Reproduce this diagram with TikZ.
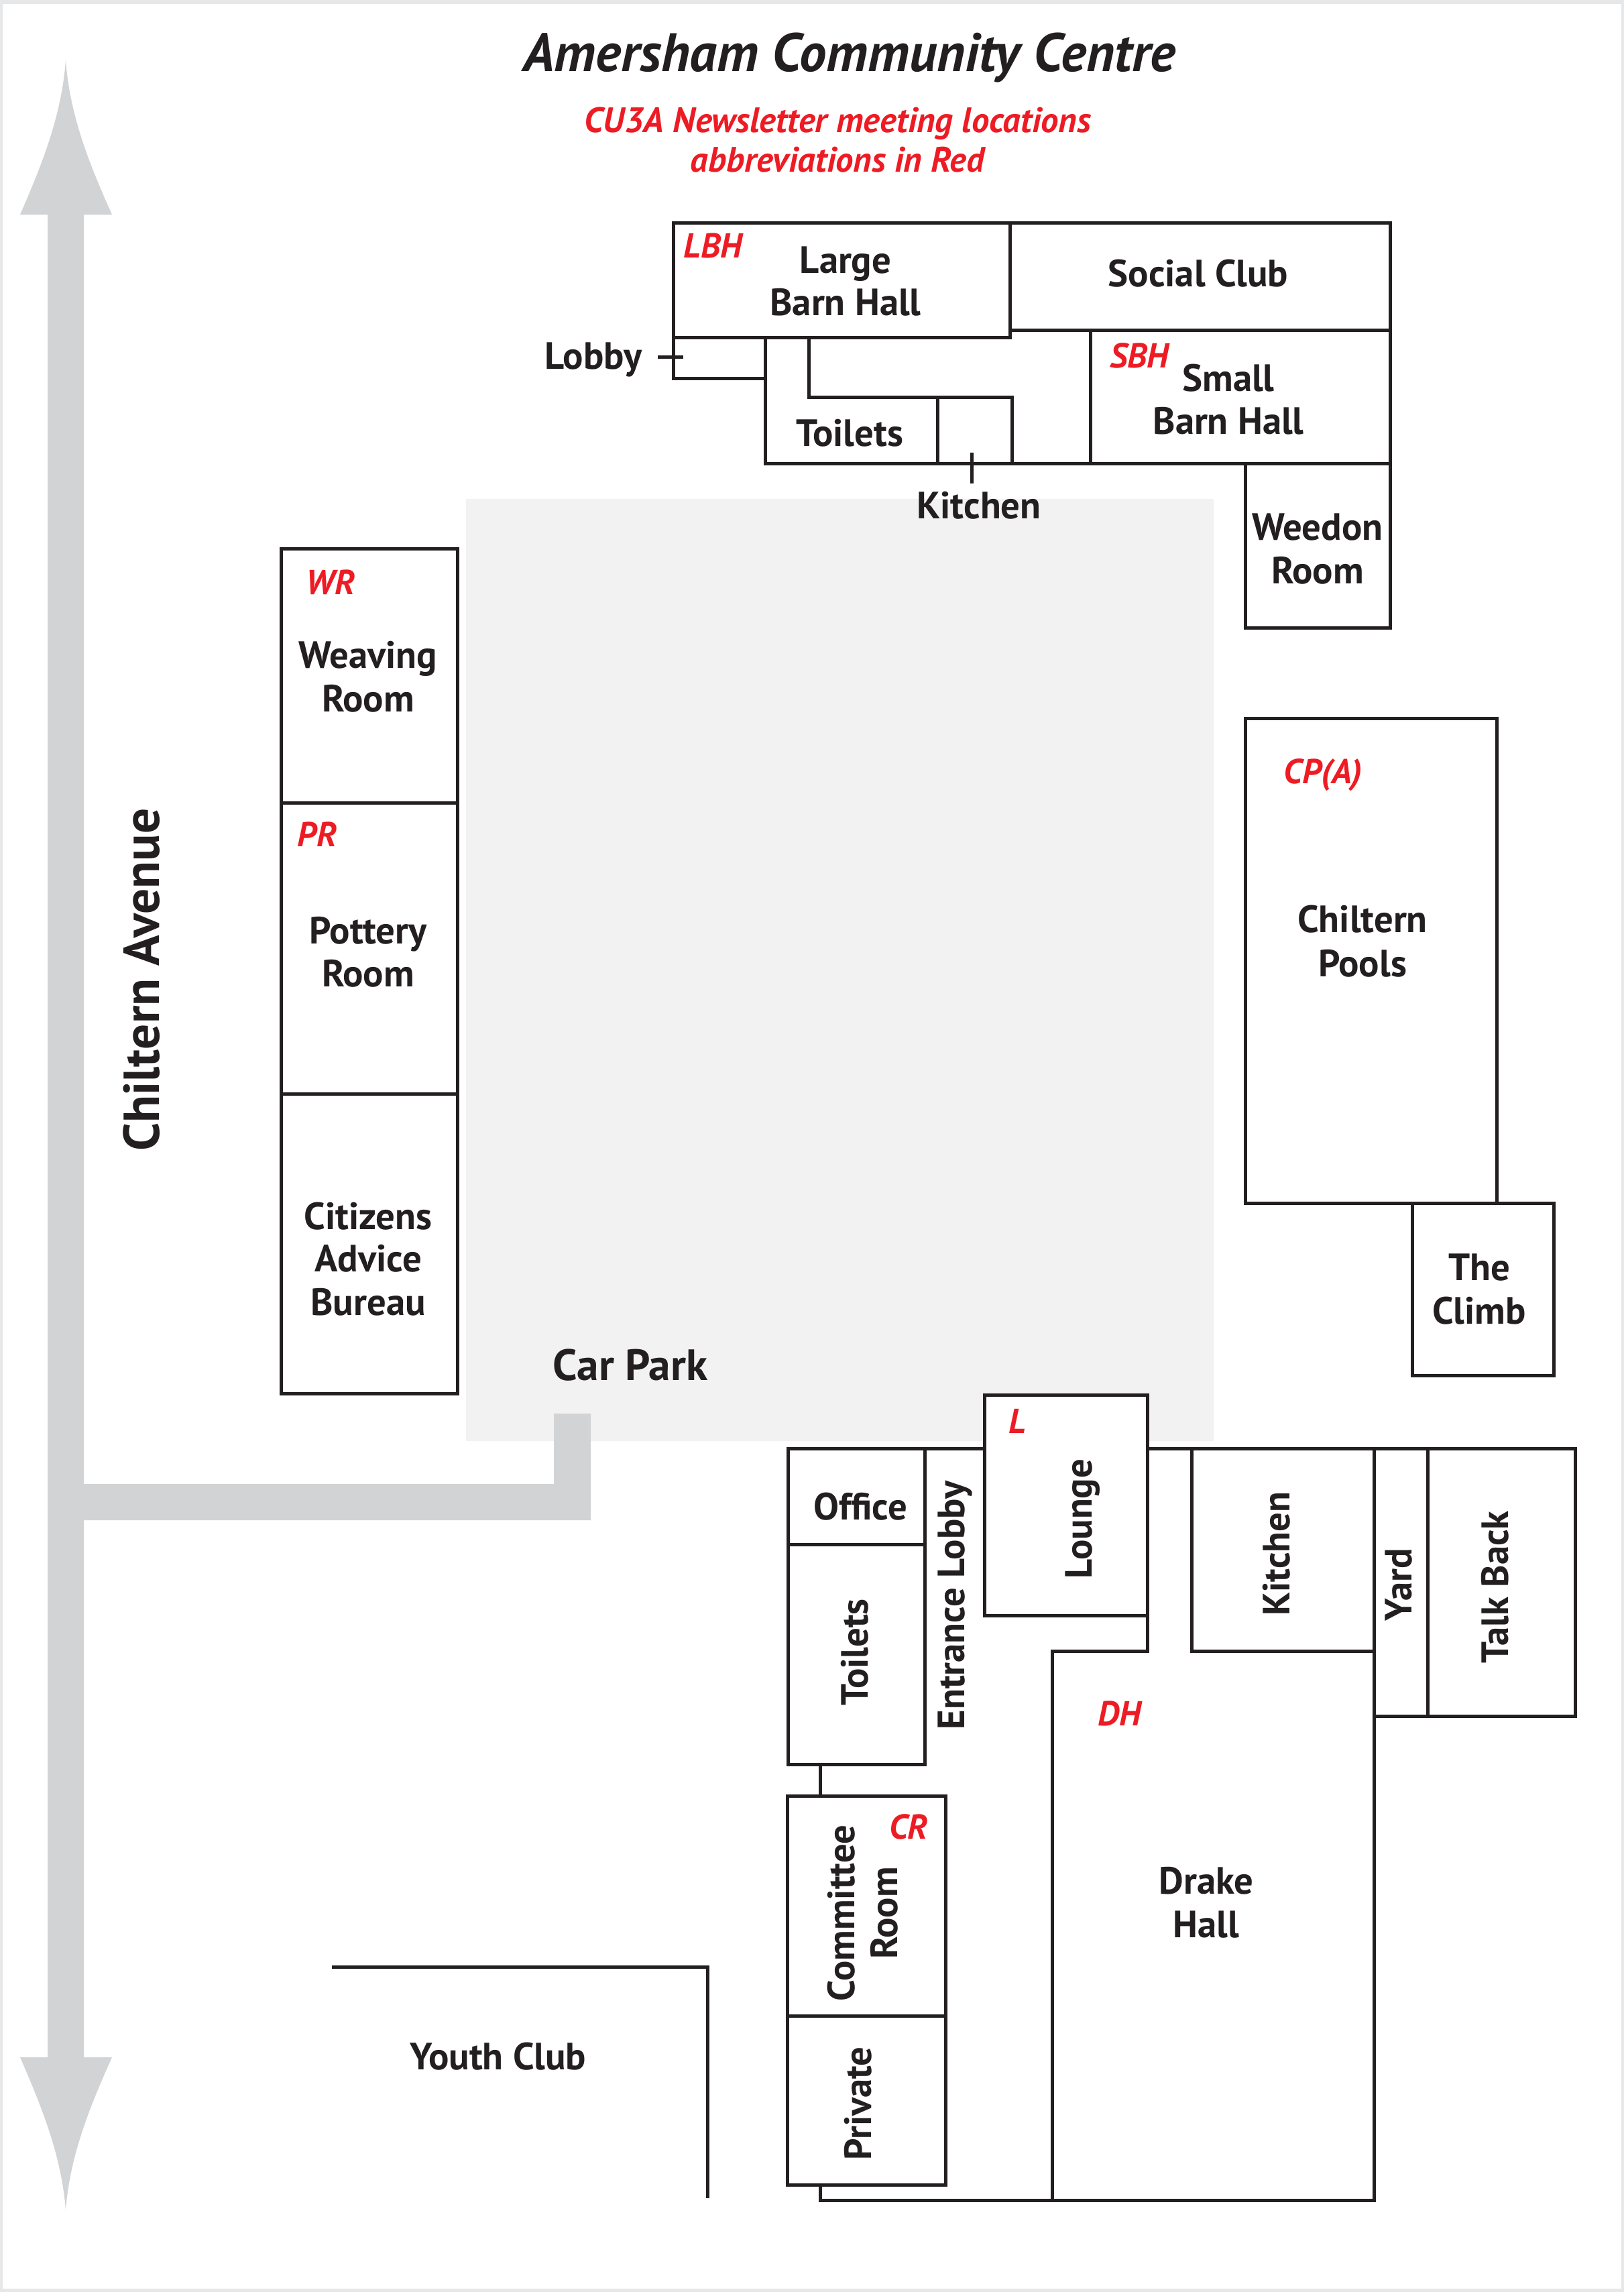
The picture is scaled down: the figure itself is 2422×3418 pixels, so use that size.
\documentclass[tikz,border=0pt]{standalone}
\usepackage{fontspec}
\setmainfont{PT Sans}
\definecolor{ink}{HTML}{231F20}
\definecolor{redlab}{HTML}{ED1C24}
\definecolor{road}{HTML}{D1D3D4}
\definecolor{park}{HTML}{F2F2F2}
\definecolor{edge}{HTML}{E6E7E8}
\tikzset{
  room/.style={draw=ink,line width=1.5pt,line join=miter,line cap=butt},
  txt/.style={text=ink,font=\bfseries\fontsize{17}{19}\selectfont,inner sep=0pt,align=center,text height=11.8pt,text depth=0pt},
  redtxt/.style={text=redlab,font=\bfseries\itshape\fontsize{15.5}{19}\selectfont,inner sep=0pt,text height=10.6pt,text depth=0pt},
  subtxt/.style={redtxt,font=\bfseries\itshape\fontsize{15.8}{19}\selectfont,text height=10.8pt},
  vert/.style={rotate=90},
}
\begin{document}
\begin{tikzpicture}[x=0.3pt,y=-0.3pt]
\useasboundingbox (0,0) rectangle (2422,3418);
\fill[white] (0,0) rectangle (2422,3418);
\draw[edge,line width=1.5pt] (2,3) rectangle (2420,3415);
% car park
\fill[park] (695,744) rectangle (1810,2149);
% road
\fill[road] (98,90) .. controls (92,170) and (65,240) .. (30,320) -- (71,320) -- (71,3068) -- (30,3068)
  .. controls (65,3148) and (92,3218) .. (98,3296) .. controls (104,3218) and (131,3148) .. (167,3068)
  -- (125,3068) -- (125,2267) -- (881,2267) -- (881,2108) -- (826,2108) -- (826,2213) -- (125,2213) -- (125,320) -- (167,320)
  .. controls (131,240) and (104,170) .. (98,90) -- cycle;
% north wing
\draw[room] (1004,332) rectangle (1506,503);
\draw[room] (1506,332) -- (2073,332) -- (2073,492) -- (1506,492);
\draw[room] (1626,492) rectangle (2073,691);
\draw[room] (1857,691) rectangle (2073,936);
\draw[room] (1004,503) -- (1004,564) -- (1141,564);
\draw[room] (1141,503) -- (1141,691) -- (1626,691);
\draw[room] (1206,503) -- (1206,592) -- (1509,592) -- (1509,691);
\draw[room] (1398,592) -- (1398,691);
% tick marks
\coordinate (lobbytickA) at (981,532);
\coordinate (lobbytickB) at (1019,532);
\coordinate (kitchtickA) at (1449,675);
\coordinate (kitchtickB) at (1449,721);
\draw[room] (lobbytickA) -- (lobbytickB);
\draw[room] (kitchtickA) -- (kitchtickB);
% west wing
\draw[room] (419,818) rectangle (682,2078);
\draw[room] (419,1197) -- (682,1197);
\draw[room] (419,1631) -- (682,1631);
% east
\draw[room] (1857,1071) rectangle (2232,1794);
\draw[room] (2106,1794) rectangle (2317,2051);
% south
\draw[room] (1175,2160) rectangle (1379,2303);
\draw[room] (1175,2303) rectangle (1379,2631);
\draw[room] (1379,2160) -- (1468,2160);
\draw[room,fill=white] (1468,2080) rectangle (1711,2409);
\draw[room] (1711,2160) -- (2349,2160) -- (2349,2559) -- (2049,2559);
\draw[room] (1711,2409) -- (1711,2462) -- (1569,2462) -- (1569,3281);
\draw[room] (1223,2631) -- (1223,2678);
\draw[room] (1174,2678) rectangle (1410,3006);
\draw[room] (1174,3006) rectangle (1410,3258);
\draw[room] (1223,3258) -- (1223,3281) -- (2049,3281) -- (2049,2160);
\draw[room] (1777,2160) -- (1777,2462) -- (2049,2462);
\draw[room] (2129,2160) -- (2129,2559);
\draw[room] (495,2933) -- (1055,2933) -- (1055,3278);
% titles
\node[txt,font=\bfseries\itshape\fontsize{24.2}{30}\selectfont,text height=16.8pt] (title) at (1267,78) {Amersham Community Centre};
\node[subtxt] (subA) at (1249,179) {CU3A Newsletter meeting locations};
\node[subtxt] (subB) at (1249,238) {abbreviations in Red};
% labels
\node[redtxt] (lbh) at (1063,367) {LBH};
\node[txt] (largeA) at (1261,388) {Large};
\node[txt] (largeB) at (1261,451) {Barn Hall};
\node[txt] (social) at (1787,408) {Social Club};
\node[txt] (lobby) at (885,531) {Lobby};
\node[txt] (toiletsN) at (1267,646) {Toilets};
\node[txt] (kitchenN) at (1460,754) {Kitchen};
\node[redtxt] (sbh) at (1699,531) {SBH};
\node[txt] (smallA) at (1832,564) {Small};
\node[txt] (smallB) at (1832,628) {Barn Hall};
\node[txt] (weedonA) at (1965,786) {Weedon};
\node[txt] (weedonB) at (1965,851) {Room};
\node[redtxt] (wr) at (493,869) {WR};
\node[txt] (weavA) at (549,977) {Weaving};
\node[txt] (weavB) at (549,1042) {Room};
\node[redtxt] (pr) at (473,1245) {PR};
\node[txt] (potA) at (549,1388) {Pottery};
\node[txt] (potB) at (549,1452) {Room};
\node[txt] (cabA) at (549,1814) {Citizens};
\node[txt] (cabB) at (549,1877) {Advice};
\node[txt] (cabC) at (549,1942) {Bureau};
\node[txt,vert,font=\bfseries\fontsize{22.6}{24}\selectfont,text height=15.8pt] (avenue) at (211,1461) {Chiltern Avenue};
\node[redtxt] (cpa) at (1973,1151) {CP(A)};
\node[txt] (poolsA) at (2032,1371) {Chiltern};
\node[txt] (poolsB) at (2032,1437) {Pools};
\node[txt] (climbA) at (2206,1890) {The};
\node[txt] (climbB) at (2206,1955) {Climb};
\node[txt,font=\bfseries\fontsize{19.6}{20}\selectfont,text height=13.7pt] (carpark) at (940,2036) {Car Park};
\node[redtxt] (l) at (1517,2120) {L};
\node[txt,vert] (lounge) at (1609,2265) {Lounge};
\node[txt] (office) at (1283,2247) {Office};
\node[txt,vert] (toiletsS) at (1275,2464) {Toilets};
\node[txt,vert] (entrance) at (1419,2394) {Entrance Lobby};
\node[txt,vert] (kitchenS) at (1904,2317) {Kitchen};
\node[txt,vert] (yard) at (2086,2363) {Yard};
\node[txt,vert] (talk) at (2230,2367) {Talk Back};
\node[redtxt] (dh) at (1670,2556) {DH};
\node[txt] (drakeA) at (1799,2805) {Drake};
\node[txt] (drakeB) at (1799,2870) {Hall};
\node[redtxt] (cr) at (1355,2725) {CR};
\node[txt,vert] (commA) at (1255,2853) {Committee};
\node[txt,vert] (commB) at (1319,2853) {Room};
\node[txt,vert] (private) at (1280,3137) {Private};
\node[txt] (youth) at (743,3067) {Youth Club};
\end{tikzpicture}
\end{document}
